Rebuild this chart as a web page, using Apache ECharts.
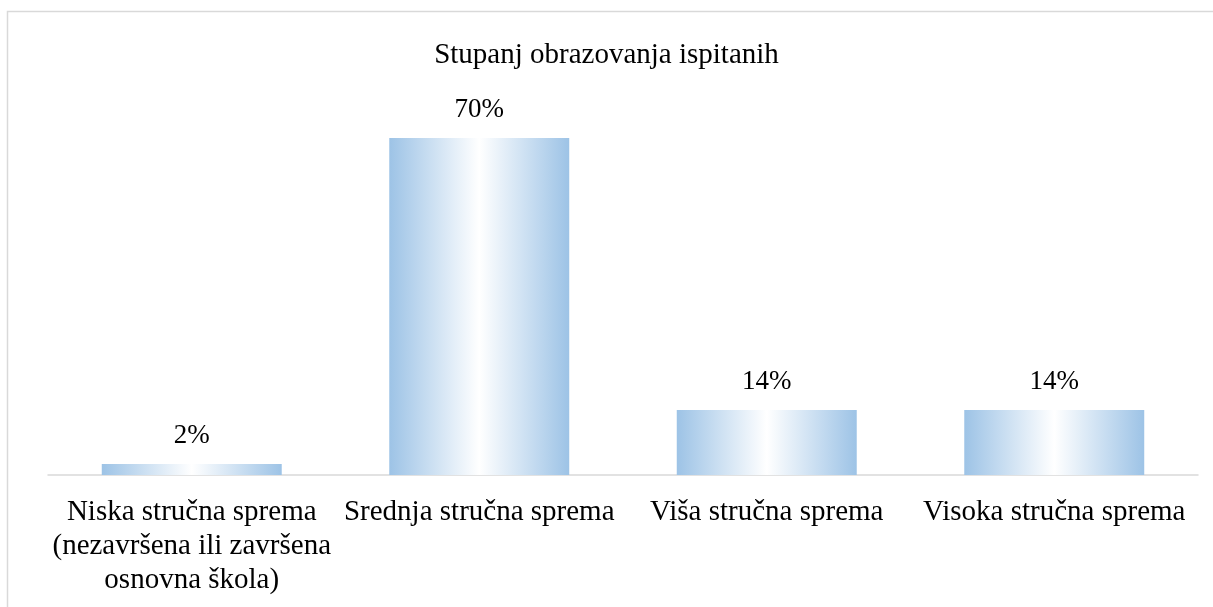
<!DOCTYPE html>
<html>
<head>
<meta charset="utf-8">
<script src="https://cdn.jsdelivr.net/npm/echarts@6/dist/echarts.min.js"></script>
<style>
  html, body { margin: 0; padding: 0; background: #fff; }
  #chart { width: 1213px; height: 607px; }
</style>
</head>
<body>
<div id="chart"></div>
<script>
// podaci grafikona
const categories = [
    'Niska stručna sprema\n(nezavršena ili završena\nosnovna škola)',
    'Srednja stručna sprema',
    'Viša stručna sprema',
    'Visoka stručna sprema'
]
const values = [2.3, 70, 13.5, 13.5]
const valueLabels = ['2%', '70%', '14%', '14%']

const chart = echarts.init(document.getElementById('chart'))

const barGradient = new echarts.graphic.LinearGradient(0, 0, 1, 0, [
    { offset: 0, color: '#9dc3e6' },
    { offset: 0.5, color: '#ffffff' },
    { offset: 1, color: '#9dc3e6' }
])

chart.setOption({
    animation: false,
    textStyle: { fontFamily: 'Liberation Serif' },
    title: {
        text: 'Stupanj obrazovanja ispitanih',
        left: 'center',
        top: 36,
        textStyle: {
            fontFamily: 'Liberation Serif',
            fontWeight: 'normal',
            fontSize: 29,
            color: '#000'
        }
    },
    graphic: [{
        // okvir grafikona
        type: 'rect',
        shape: { x: 7.5, y: 11.5, width: 1230, height: 700 },
        style: { fill: 'none', stroke: '#d9d9d9', lineWidth: 1.5 },
        silent: true
    }],
    grid: {
        left: 48,
        right: 15,
        top: 138,
        bottom: 132
    },
    xAxis: {
        type: 'category',
        data: categories,
        axisLine: { lineStyle: { color: '#d9d9d9', width: 1.5 } },
        axisTick: { show: false },
        axisLabel: {
            interval: 0,
            margin: 20,
            fontSize: 29,
            lineHeight: 34,
            color: '#000',
            fontFamily: 'Liberation Serif'
        }
    },
    yAxis: {
        type: 'value',
        min: 0,
        max: 70,
        show: false,
        splitLine: { show: false }
    },
    series: [{
        type: 'bar',
        data: values,
        barWidth: '62.6%',
        itemStyle: { color: barGradient },
        label: {
            show: true,
            position: 'top',
            distance: 15,
            fontSize: 27,
            color: '#000',
            fontFamily: 'Liberation Serif',
            formatter: function (p) { return valueLabels[p.dataIndex] }
        }
    }]
})
</script>
</body>
</html>
